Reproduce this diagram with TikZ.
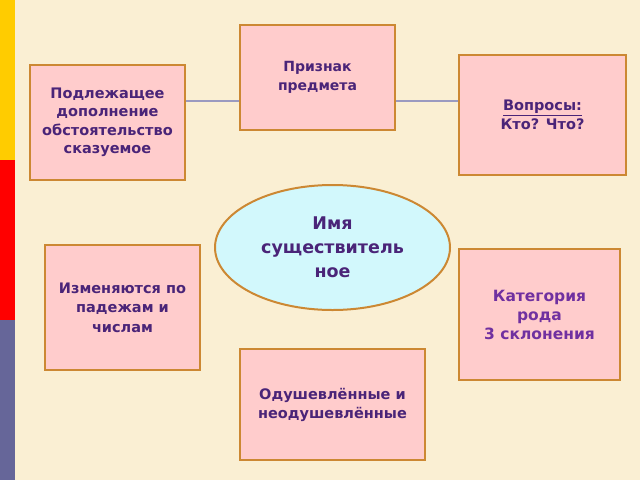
\documentclass[tikz,border=0pt]{standalone}
\usepackage{fontspec}
\setmainfont{DejaVu Sans}
\usetikzlibrary{shapes.geometric}
\definecolor{bgc}{HTML}{FAEFD3}
\definecolor{stripeY}{HTML}{FFCC00}
\definecolor{stripeR}{HTML}{FF0000}
\definecolor{stripeB}{HTML}{666699}
\definecolor{boxfill}{HTML}{FFCCCC}
\definecolor{boxline}{HTML}{CC8833}
\definecolor{ellfill}{HTML}{D2F8FC}
\definecolor{txt}{HTML}{4A2478}
\definecolor{txtlight}{HTML}{7030A0}
\definecolor{conn}{HTML}{9A9AC0}
\tikzset{
  pinkbox/.style={draw=boxline, line width=2pt, fill=boxfill, align=center, inner sep=0pt,
    font=\fontsize{14.5}{18.5}\selectfont\bfseries, text=txt},
  link/.style={draw=conn, line width=2pt}
}
\begin{document}
\begin{tikzpicture}[x=1pt,y=-1pt]
\useasboundingbox (0,0) rectangle (640,480);
\fill[bgc] (0,0) rectangle (640,480);
\fill[stripeY] (0,0) rectangle (15,160);
\fill[stripeR] (0,160) rectangle (15,320);
\fill[stripeB] (0,320) rectangle (15,480);
\node[pinkbox, minimum width=155pt, minimum height=115pt] (subj) at (107.5,122.5)
  {Подлежащее\\дополнение\\обстоятельство\\сказуемое};
\node[pinkbox, minimum width=155pt, minimum height=105pt, font=\fontsize{14}{19}\selectfont\bfseries] (attr) at (317.5,77.5)
  {Признак\\предмета};
\node[pinkbox, minimum width=167pt, minimum height=120pt] (quest) at (542.5,115)
  {\underline{Вопросы:}\\Кто? Что?};
\node[draw=boxline, line width=2pt, fill=ellfill, ellipse, minimum width=235pt, minimum height=125pt,
  align=center, font=\fontsize{17.5}{24}\selectfont\bfseries, text=txt] (noun) at (332.5,247.5)
  {Имя\\существитель\\ное};
\node[pinkbox, minimum width=155pt, minimum height=125pt, font=\fontsize{14.5}{19.5}\selectfont\bfseries] (chg) at (122.5,307.5)
  {Изменяются по\\падежам и\\числам};
\node[pinkbox, minimum width=161pt, minimum height=131pt, text=txtlight, font=\fontsize{15.5}{19}\selectfont\bfseries] (cat) at (539.5,314.5)
  {Категория\\рода\\3 склонения};
\node[pinkbox, minimum width=185pt, minimum height=111pt, font=\fontsize{14.5}{19}\selectfont\bfseries] (anim) at (332.5,404.5)
  {Одушевлённые и\\неодушевлённые};
\draw[link] (subj.east |- 0,101) -- (attr.west |- 0,101);
\draw[link] (attr.east |- 0,101) -- (quest.west |- 0,101);
\end{tikzpicture}
\end{document}
